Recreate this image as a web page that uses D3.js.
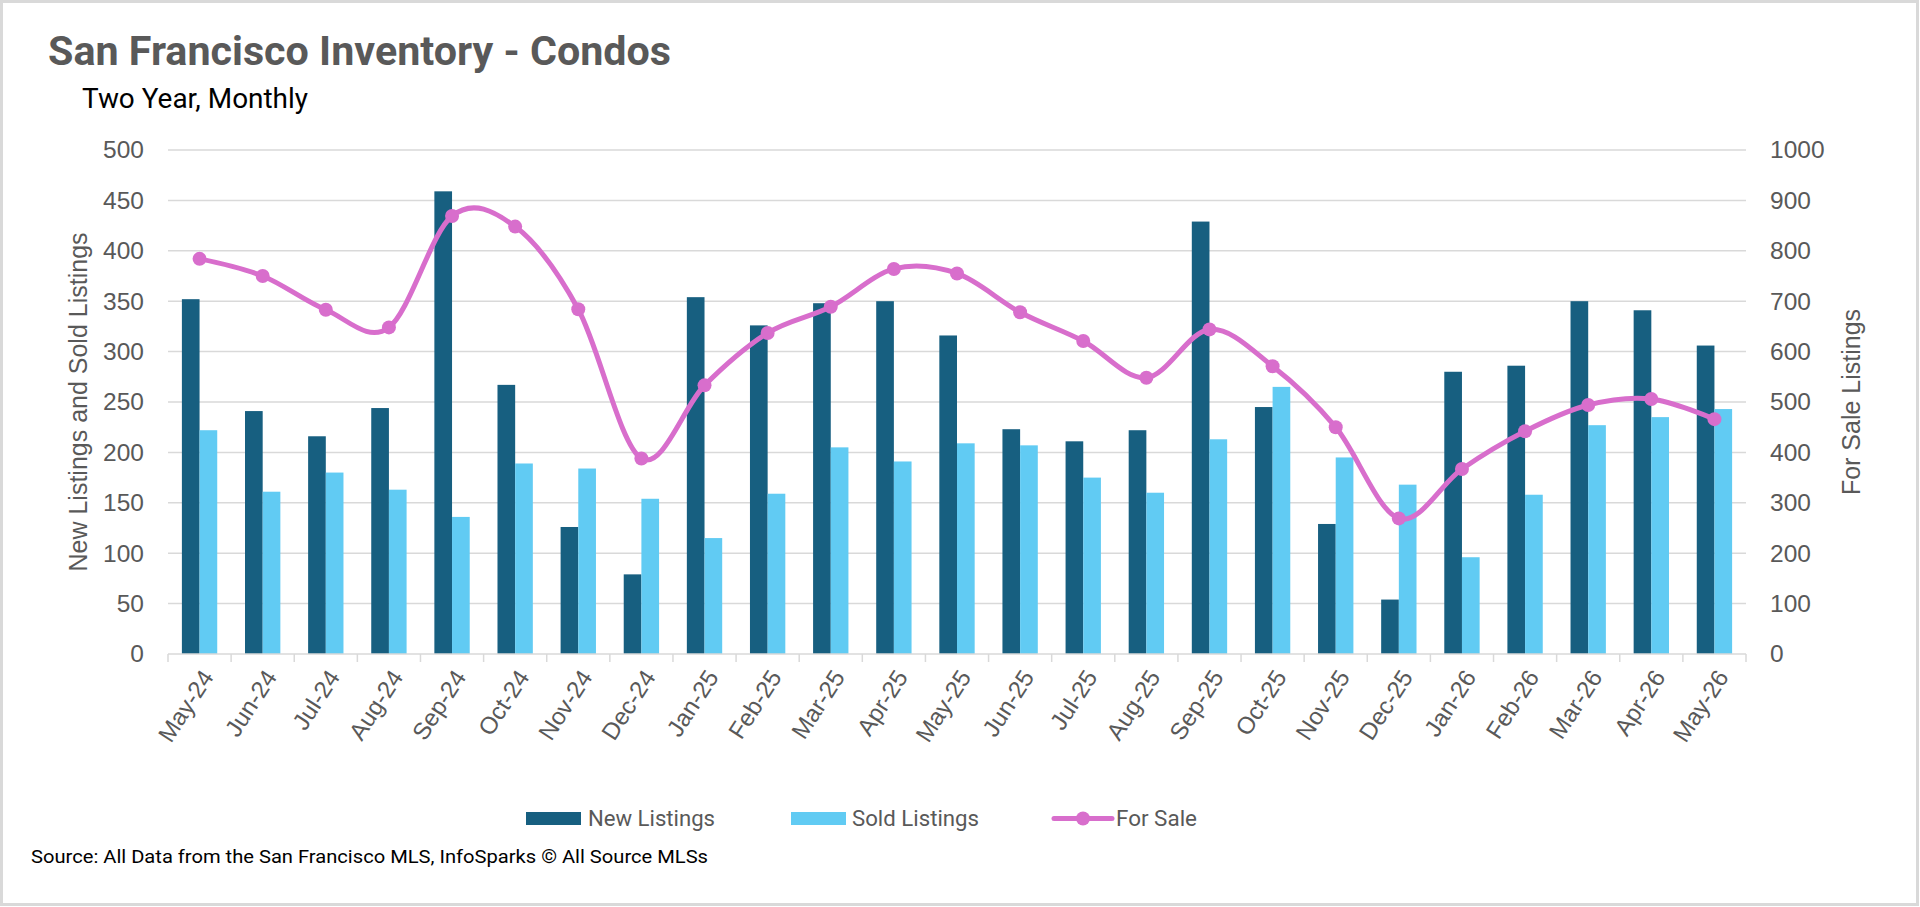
<!DOCTYPE html>
<html>
<head>
<meta charset="utf-8">
<script src="https://cdn.jsdelivr.net/npm/d3@7"></script>
<style>
  body { margin: 0; background: #fff; }
  text { font-family: "Liberation Sans", Arial, sans-serif; }
  .narrow { font-family: Roboto, "Liberation Sans", sans-serif; }
</style>
</head>
<body>
<div id="chart-area"></div>
<script>
// Data
var months = ["May-24","Jun-24","Jul-24","Aug-24","Sep-24","Oct-24","Nov-24","Dec-24",
              "Jan-25","Feb-25","Mar-25","Apr-25","May-25","Jun-25","Jul-25","Aug-25",
              "Sep-25","Oct-25","Nov-25","Dec-25","Jan-26","Feb-26","Mar-26","Apr-26","May-26"]
var newListings  = [352, 241, 216, 244, 459, 267, 126, 79, 354, 326, 348, 350, 316, 223, 211, 222, 429, 245, 129, 54, 280, 286, 350, 341, 306]
var soldListings = [222, 161, 180, 163, 136, 189, 184, 154, 115, 159, 205, 191, 209, 207, 175, 160, 213, 265, 195, 168, 96, 158, 227, 235, 243]
var forSale      = [784, 750, 683, 648, 869, 848, 684, 388, 533, 637, 689, 764, 755, 678, 621, 548, 644, 571, 450, 269, 367, 442, 494, 506, 466]
var leftTicks  = [0, 50, 100, 150, 200, 250, 300, 350, 400, 450, 500]
var rightTicks = [0, 100, 200, 300, 400, 500, 600, 700, 800, 900, 1000]
var seriesNames = ["New Listings", "Sold Listings", "For Sale"]

var W = 1920, H = 907
var plot = {left: 168, right: 1746, top: 150, bottom: 654}

var colNew = "#175f80", colSold = "#61cbf3", colLine = "#d86ecc"
var grid = "#d9d9d9", axisText = "#595959"

var svg = d3.select("#chart-area")
    .append("svg")
        .attr("width", W)
        .attr("height", H)

// outer border
svg.append("rect")
    .attr("x", 1.5).attr("y", 1.5)
    .attr("width", 1916).attr("height", 903)
    .attr("fill", "#fff")
    .attr("stroke", grid)
    .attr("stroke-width", 3)

// Scales
var x = d3.scaleBand()
    .domain(months)
    .range([plot.left, plot.right])
    .paddingInner(0.44)
    .paddingOuter(0.22)
var xSub = d3.scaleBand()
    .domain(["new", "sold"])
    .range([0, x.bandwidth()])
var y = d3.scaleLinear().domain([0, 500]).range([plot.bottom, plot.top])
var y2 = d3.scaleLinear().domain([0, 1000]).range([plot.bottom, plot.top])

// Gridlines
svg.append("g")
    .selectAll("line")
    .data(leftTicks.slice(1))
    .join("line")
        .attr("x1", plot.left).attr("x2", plot.right)
        .attr("y1", d => y(d)).attr("y2", d => y(d))
        .attr("stroke", grid)
        .attr("stroke-width", 1.5)

// Left axis labels
var yAxis = svg.append("g")
    .attr("transform", "translate(" + (plot.left - 24) + ",0)")
    .call(d3.axisLeft(y).tickValues(leftTicks).tickSize(0).tickPadding(0))
yAxis.select(".domain").remove()
yAxis.selectAll("text")
    .attr("font-size", 24.5)
    .attr("fill", axisText)
    .style("font-family", "Liberation Sans, Arial, sans-serif")

// Right axis labels
var y2Axis = svg.append("g")
    .attr("transform", "translate(" + (plot.right + 24) + ",0)")
    .call(d3.axisRight(y2).tickValues(rightTicks).tickFormat(d3.format("d")).tickSize(0).tickPadding(0))
y2Axis.select(".domain").remove()
y2Axis.selectAll("text")
    .attr("font-size", 24.5)
    .attr("fill", axisText)
    .style("font-family", "Liberation Sans, Arial, sans-serif")

// Bars
var bars = svg.append("g")
bars.selectAll("rect.new")
    .data(months)
    .join("rect")
        .attr("class", "new")
        .attr("x", d => x(d) + xSub("new"))
        .attr("width", xSub.bandwidth())
        .attr("y", (d, i) => y(newListings[i]))
        .attr("height", (d, i) => y(0) - y(newListings[i]))
        .attr("fill", colNew)
bars.selectAll("rect.sold")
    .data(months)
    .join("rect")
        .attr("class", "sold")
        .attr("x", d => x(d) + xSub("sold"))
        .attr("width", xSub.bandwidth())
        .attr("y", (d, i) => y(soldListings[i]))
        .attr("height", (d, i) => y(0) - y(soldListings[i]))
        .attr("fill", colSold)

// X axis
var xAxis = svg.append("g")
    .attr("transform", "translate(0," + plot.bottom + ")")
    .call(d3.axisBottom(x).tickSize(0).tickPadding(0))
xAxis.select(".domain")
    .attr("stroke", grid)
    .attr("stroke-width", 1.5)
    .attr("d", "M" + plot.left + ",0H" + plot.right)
xAxis.selectAll(".tick text")
    .attr("font-size", 24)
    .attr("fill", axisText)
    .attr("text-anchor", "end")
    .attr("dy", 0)
    .attr("y", 0)
    .attr("transform", "translate(15,23) rotate(-57)")
    .style("font-family", "Liberation Sans, Arial, sans-serif")
// tick marks at band boundaries
xAxis.selectAll("line.sep")
    .data(d3.range(months.length + 1))
    .join("line")
        .attr("class", "sep")
        .attr("x1", i => plot.left + i * x.step())
        .attr("x2", i => plot.left + i * x.step())
        .attr("y1", 0).attr("y2", 8)
        .attr("stroke", grid)
        .attr("stroke-width", 1.5)

// For Sale line
var pts = months.map((m, i) => [x(m) + x.bandwidth() / 2, y2(forSale[i])])
svg.append("path")
    .attr("d", d3.line().curve(d3.curveCardinal.tension(0))(pts))
    .attr("fill", "none")
    .attr("stroke", colLine)
    .attr("stroke-width", 5)
    .attr("stroke-linecap", "round")
svg.append("g")
    .selectAll("circle")
    .data(pts)
    .join("circle")
        .attr("cx", d => d[0])
        .attr("cy", d => d[1])
        .attr("r", 7)
        .attr("fill", colLine)

// Axis titles
svg.append("text")
    .attr("transform", "translate(87," + ((plot.top + plot.bottom) / 2) + ") rotate(-90)")
    .attr("text-anchor", "middle")
    .attr("font-size", 25)
    .attr("fill", axisText)
    .text("New Listings and Sold Listings")
svg.append("text")
    .attr("transform", "translate(1860," + ((plot.top + plot.bottom) / 2) + ") rotate(-90)")
    .attr("text-anchor", "middle")
    .attr("font-size", 25)
    .attr("fill", axisText)
    .text("For Sale Listings")

// Titles
svg.append("text")
    .attr("class", "narrow")
    .attr("x", 48).attr("y", 65)
    .attr("font-size", 41)
    .attr("font-weight", "bold")
    .attr("fill", "#595959")
    .attr("textLength", 623)
    .attr("lengthAdjust", "spacingAndGlyphs")
    .text("San Francisco Inventory - Condos")
svg.append("text")
    .attr("class", "narrow")
    .attr("x", 82).attr("y", 108)
    .attr("font-size", 28)
    .attr("fill", "#000")
    .attr("textLength", 226)
    .attr("lengthAdjust", "spacingAndGlyphs")
    .text("Two Year, Monthly")

// Legend
var legend = svg.append("g")
legend.append("rect")
    .attr("x", 526).attr("y", 812).attr("width", 55).attr("height", 13)
    .attr("fill", colNew)
legend.append("rect")
    .attr("x", 791).attr("y", 812).attr("width", 55).attr("height", 13)
    .attr("fill", colSold)
legend.append("line")
    .attr("x1", 1054).attr("x2", 1112).attr("y1", 818.5).attr("y2", 818.5)
    .attr("stroke", colLine).attr("stroke-width", 5).attr("stroke-linecap", "round")
legend.append("circle")
    .attr("cx", 1083).attr("cy", 818.5).attr("r", 7)
    .attr("fill", colLine)
var legendX = [588, 852, 1116], legendW = [127, 127, 81]
legend.selectAll("text")
    .data(seriesNames)
    .join("text")
        .attr("class", "narrow")
        .attr("x", (d, i) => legendX[i])
        .attr("y", 826)
        .attr("font-size", 22)
        .attr("fill", axisText)
        .attr("textLength", (d, i) => legendW[i])
        .attr("lengthAdjust", "spacingAndGlyphs")
        .text(d => d)

// Source note
svg.append("text")
    .attr("class", "narrow")
    .attr("x", 31).attr("y", 863)
    .attr("font-size", 19)
    .attr("fill", "#000")
    .attr("textLength", 677)
    .attr("lengthAdjust", "spacingAndGlyphs")
    .text("Source: All Data from the San Francisco MLS, InfoSparks \u00a9 All Source MLSs")
</script>
</body>
</html>
